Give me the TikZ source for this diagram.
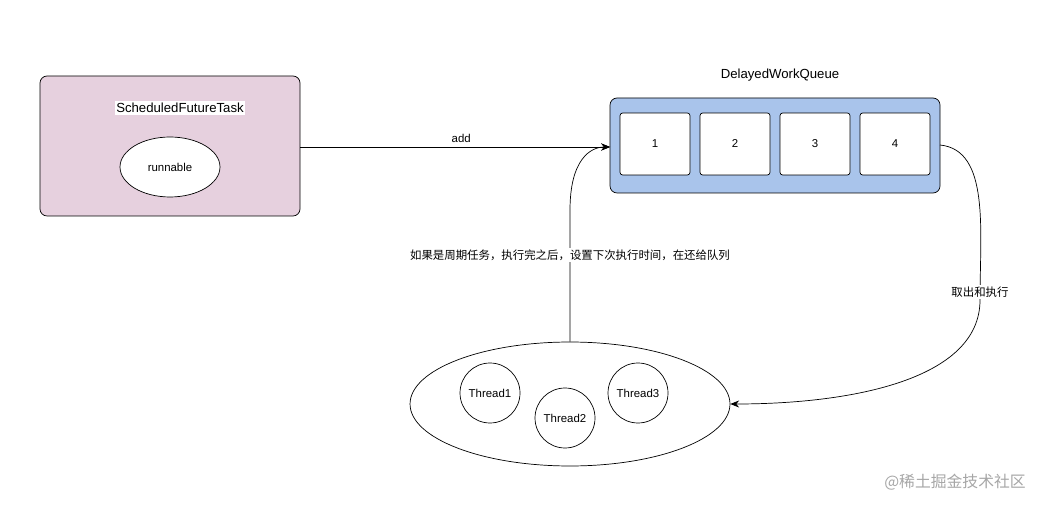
\documentclass[tikz,border=0pt]{standalone}
\usepackage{fontspec}
\setmainfont{Liberation Sans}
\newfontfamily\cjk{Noto Sans CJK SC}
\usetikzlibrary{positioning,arrows.meta,shapes.geometric}
\definecolor{taskpink}{HTML}{E6D0DE}
\definecolor{queueblue}{HTML}{A9C4EB}
\tikzset{
  lbl/.style={font=\fontsize{6.5}{8}\selectfont},
  cjklbl/.style={font=\cjk\fontsize{6.5}{8}\selectfont},
  slot/.style={draw,rounded corners=1.5pt,fill=white,minimum width=1.4cm,minimum height=1.24cm,lbl},
  thread/.style={draw,circle,fill=white,minimum size=1.2cm,inner sep=0pt,lbl},
  flow/.style={-{Stealth[length=5pt,width=4pt]}}
}
\begin{document}
\begin{tikzpicture}[x=0.02cm,y=-0.02cm]
    \useasboundingbox (0,0) rectangle (1053,509);
    %Task
    \draw[fill=taskpink,rounded corners=4pt] (40,76) rectangle (300,216);
    \coordinate (taskout) at (300,147);
    \node[fill=white,inner sep=1pt,font=\fontsize{7.5}{9}\selectfont] (task) at (180,108) {ScheduledFutureTask};
    \node[draw,ellipse,fill=white,minimum width=2cm,minimum height=1.2cm,lbl] (run) at (170,167) {runnable};
    %Queue
    \node[font=\fontsize{7.5}{9}\selectfont] (qname) at (780,75) {DelayedWorkQueue};
    \draw[fill=queueblue,rounded corners=4pt] (610,98) rectangle (940,193);
    \coordinate (qin) at (610,147);
    \coordinate (qout) at (940,145);
    \foreach \i/\x in {1/655,2/735,3/815,4/895}
      \node[slot] (s\i) at (\x,144) {\i};
    %Pool
    \node[draw,ellipse,minimum width=6.4cm,minimum height=2.48cm] (pool) at (570,404) {};
    \node[thread] (t1) at (490,393) {Thread1};
    \node[thread] (t2) at (565,418) {Thread2};
    \node[thread] (t3) at (638,393) {Thread3};
    %Connectors
    \draw[flow] (taskout) -- (qin) node[lbl,pos=0.52,above=-1pt]{add};
    \draw[flow] (pool.north) -- (570,210) .. controls (570,160) and (590,147) .. (qin);
    \node[cjklbl,fill=white,inner sep=1pt] (back) at (570,255) {如果是周期任务，执行完之后，设置下次执行时间，在还给队列};
    \draw[flow] (qout) .. controls (990,150) and (980,230) .. (980,300)
      .. controls (980,380) and (850,404) .. (pool.east);
    \node[cjklbl,fill=white,inner sep=1pt] (take) at (980,292) {取出和执行};
    %Mark
    \node[text=gray!70,font=\cjk\fontsize{9}{11}\selectfont] (mark) at (955,482) {@稀土掘金技术社区};
\end{tikzpicture}
\end{document}
